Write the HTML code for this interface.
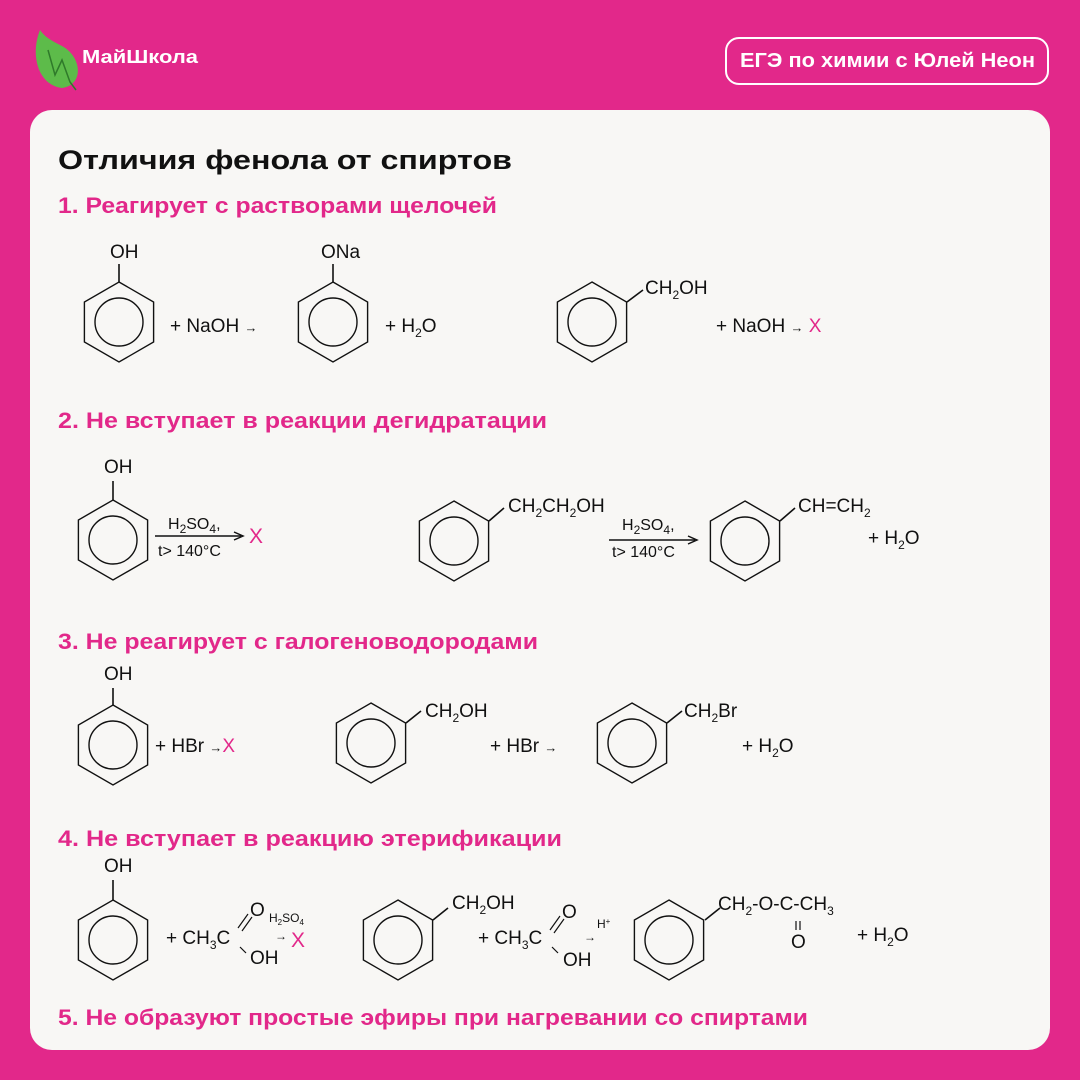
<!DOCTYPE html>
<html><head><meta charset="utf-8"><style>
html,body{margin:0;padding:0}
body{width:1080px;height:1080px;background:#e2288a;position:relative;overflow:hidden;font-family:"Liberation Sans",sans-serif}
.card{position:absolute;left:30px;top:110px;width:1020px;height:940px;background:#f8f7f5;border-radius:22px}
.badge{position:absolute;left:725px;top:37px;width:320px;height:44px;border:2.5px solid #fff;border-radius:14px}
svg{position:absolute;left:0;top:0}
text{font-family:"Liberation Sans",sans-serif;fill:#111}
.h{fill:#e2288a;font-weight:bold;font-size:22px}
.t{font-size:19px}
.s{font-size:12px}
.p{fill:#e2288a}
</style></head><body>
<div class="card"></div>
<div class="badge"></div>
<svg width="1080" height="1080" viewBox="0 0 1080 1080">
<defs>
<g id="r"><polygon points="0,-40 34.6,-20 34.6,20 0,40 -34.6,20 -34.6,-20" fill="none" stroke="#111" stroke-width="1.4"/><circle r="24" fill="none" stroke="#111" stroke-width="1.4"/></g>
</defs>
<text x="740" y="67" textLength="295" lengthAdjust="spacingAndGlyphs" style="fill:#fff;font-weight:bold;font-size:20px">ЕГЭ по химии с Юлей Неон</text>
<!-- logo -->
<path d="M40,30 C30,55 38,85 62,88 C85,85 82,55 60,45 C50,40 44,36 40,30 Z" fill="#5dbb4a"/>
<path d="M48,50 L55,75 L62,60 L70,82 L76,90" stroke="#2f7a2a" stroke-width="1.5" fill="none"/>
<text x="82" y="63" textLength="116" lengthAdjust="spacingAndGlyphs" style="fill:#fff;font-weight:bold;font-size:18px">МайШкола</text>

<text x="58" y="169" textLength="454" lengthAdjust="spacingAndGlyphs" style="font-weight:bold;font-size:27px;fill:#111">Отличия фенола от спиртов</text>
<text class="h" x="58" y="213" textLength="439" lengthAdjust="spacingAndGlyphs">1. Реагирует с растворами щелочей</text>
<text class="h" x="58" y="428" textLength="489" lengthAdjust="spacingAndGlyphs">2. Не вступает в реакции дегидратации</text>
<text class="h" x="58" y="649" textLength="480" lengthAdjust="spacingAndGlyphs">3. Не реагирует с галогеноводородами</text>
<text class="h" x="58" y="846" textLength="504" lengthAdjust="spacingAndGlyphs">4. Не вступает в реакцию этерификации</text>
<text class="h" x="58" y="1025" textLength="750" lengthAdjust="spacingAndGlyphs">5. Не образуют простые эфиры при нагревании со спиртами</text>

<g stroke="#111" stroke-width="1.6">
<line x1="119" y1="282" x2="119" y2="264"/>
<line x1="333" y1="282" x2="333" y2="264"/>
<line x1="627" y1="302" x2="643" y2="290"/>
<line x1="113" y1="500" x2="113" y2="481"/>
<line x1="489" y1="521" x2="504" y2="508"/>
<line x1="780" y1="521" x2="795" y2="508"/>
<line x1="113" y1="705" x2="113" y2="688"/>
<line x1="406" y1="723" x2="421" y2="711"/>
<line x1="667" y1="723" x2="682" y2="711"/>
<line x1="113" y1="900" x2="113" y2="880"/>
<line x1="433" y1="920" x2="448" y2="908"/>
<line x1="705" y1="920" x2="720" y2="908"/>
</g>
<use href="#r" x="119" y="322"/>
<use href="#r" x="333" y="322"/>
<use href="#r" x="592" y="322"/>
<use href="#r" x="113" y="540"/>
<use href="#r" x="454" y="541"/>
<use href="#r" x="745" y="541"/>
<use href="#r" x="113" y="745"/>
<use href="#r" x="371" y="743"/>
<use href="#r" x="632" y="743"/>
<use href="#r" x="113" y="940"/>
<use href="#r" x="398" y="940"/>
<use href="#r" x="669" y="940"/>

<!-- section 1 -->
<text class="t" x="110" y="258">OH</text>
<text class="t" x="321" y="258">ONa</text>
<text class="t" x="170" y="332">+ NaOH <tspan style="font-size:13px">→</tspan></text>
<text class="t" x="385" y="332">+ H<tspan class="s" dy="5">2</tspan><tspan dy="-5">O</tspan></text>
<text class="t" x="645" y="294">CH<tspan class="s" dy="5">2</tspan><tspan dy="-5">OH</tspan></text>
<text class="t" x="716" y="332">+ NaOH <tspan style="font-size:13px">→</tspan> <tspan class="p">X</tspan></text>

<!-- section 2 -->
<text class="t" x="104" y="473">OH</text>
<line x1="155" y1="536" x2="241" y2="536" stroke="#111" stroke-width="1.5"/>
<path d="M234,532 L243,536 L234,540" fill="none" stroke="#111" stroke-width="1.5"/>
<text x="168" y="529" style="font-size:16px">H<tspan class="s" dy="4">2</tspan><tspan dy="-4">SO</tspan><tspan class="s" dy="4">4</tspan><tspan dy="-4">,</tspan></text>
<text x="158" y="556" style="font-size:16px">t&gt; 140°C</text>
<text class="t p" x="249" y="543" style="font-size:21px">X</text>
<text class="t" x="508" y="512">CH<tspan class="s" dy="5">2</tspan><tspan dy="-5">CH</tspan><tspan class="s" dy="5">2</tspan><tspan dy="-5">OH</tspan></text>
<line x1="609" y1="540" x2="695" y2="540" stroke="#111" stroke-width="1.5"/>
<path d="M688,536 L697,540 L688,544" fill="none" stroke="#111" stroke-width="1.5"/>
<text x="622" y="530" style="font-size:16px">H<tspan class="s" dy="4">2</tspan><tspan dy="-4">SO</tspan><tspan class="s" dy="4">4</tspan><tspan dy="-4">,</tspan></text>
<text x="612" y="557" style="font-size:16px">t&gt; 140°C</text>
<text class="t" x="798" y="512">CH=CH<tspan class="s" dy="5">2</tspan></text>
<text class="t" x="868" y="544">+ H<tspan class="s" dy="5">2</tspan><tspan dy="-5">O</tspan></text>

<!-- section 3 -->
<text class="t" x="104" y="680">OH</text>
<text class="t" x="155" y="752">+ HBr <tspan style="font-size:13px">→</tspan><tspan class="p">X</tspan></text>
<text class="t" x="425" y="717">CH<tspan class="s" dy="5">2</tspan><tspan dy="-5">OH</tspan></text>
<text class="t" x="490" y="752">+ HBr <tspan style="font-size:13px">→</tspan></text>
<text class="t" x="684" y="717">CH<tspan class="s" dy="5">2</tspan><tspan dy="-5">Br</tspan></text>
<text class="t" x="742" y="752">+ H<tspan class="s" dy="5">2</tspan><tspan dy="-5">O</tspan></text>

<!-- section 4 -->
<text class="t" x="104" y="872">OH</text>
<text class="t" x="166" y="944">+ CH<tspan class="s" dy="5">3</tspan><tspan dy="-5">C</tspan></text>
<text class="t" x="250" y="916">O</text>
<path d="M238,928 L248,914 M242,931 L252,917" stroke="#111" stroke-width="1.2"/>
<line x1="240" y1="947" x2="246" y2="953" stroke="#111" stroke-width="1.2"/>
<text class="t" x="250" y="964">OH</text>
<text x="269" y="922" style="font-size:12px">H<tspan style="font-size:8px" dy="3">2</tspan><tspan dy="-3">SO</tspan><tspan style="font-size:8px" dy="3">4</tspan></text>
<text x="275" y="940" style="font-size:12px">→</text>
<text class="t p" x="291" y="947" style="font-size:21px">X</text>
<text class="t" x="452" y="909">CH<tspan class="s" dy="5">2</tspan><tspan dy="-5">OH</tspan></text>
<text class="t" x="478" y="944">+ CH<tspan class="s" dy="5">3</tspan><tspan dy="-5">C</tspan></text>
<text class="t" x="562" y="918">O</text>
<path d="M550,930 L560,916 M554,933 L564,919" stroke="#111" stroke-width="1.2"/>
<line x1="552" y1="947" x2="558" y2="953" stroke="#111" stroke-width="1.2"/>
<text class="t" x="563" y="966">OH</text>
<text x="584" y="941" style="font-size:12px">→</text>
<text x="597" y="928" style="font-size:12px">H<tspan style="font-size:8px" dy="-4">+</tspan></text>
<text class="t" x="718" y="910">CH<tspan class="s" dy="5">2</tspan><tspan dy="-5">-O-C-CH</tspan><tspan class="s" dy="5">3</tspan></text>
<path d="M796,921 L796,930 M800,921 L800,930" stroke="#111" stroke-width="1.2"/>
<text class="t" x="791" y="948">O</text>
<text class="t" x="857" y="941">+ H<tspan class="s" dy="5">2</tspan><tspan dy="-5">O</tspan></text>
</svg>
</body></html>
